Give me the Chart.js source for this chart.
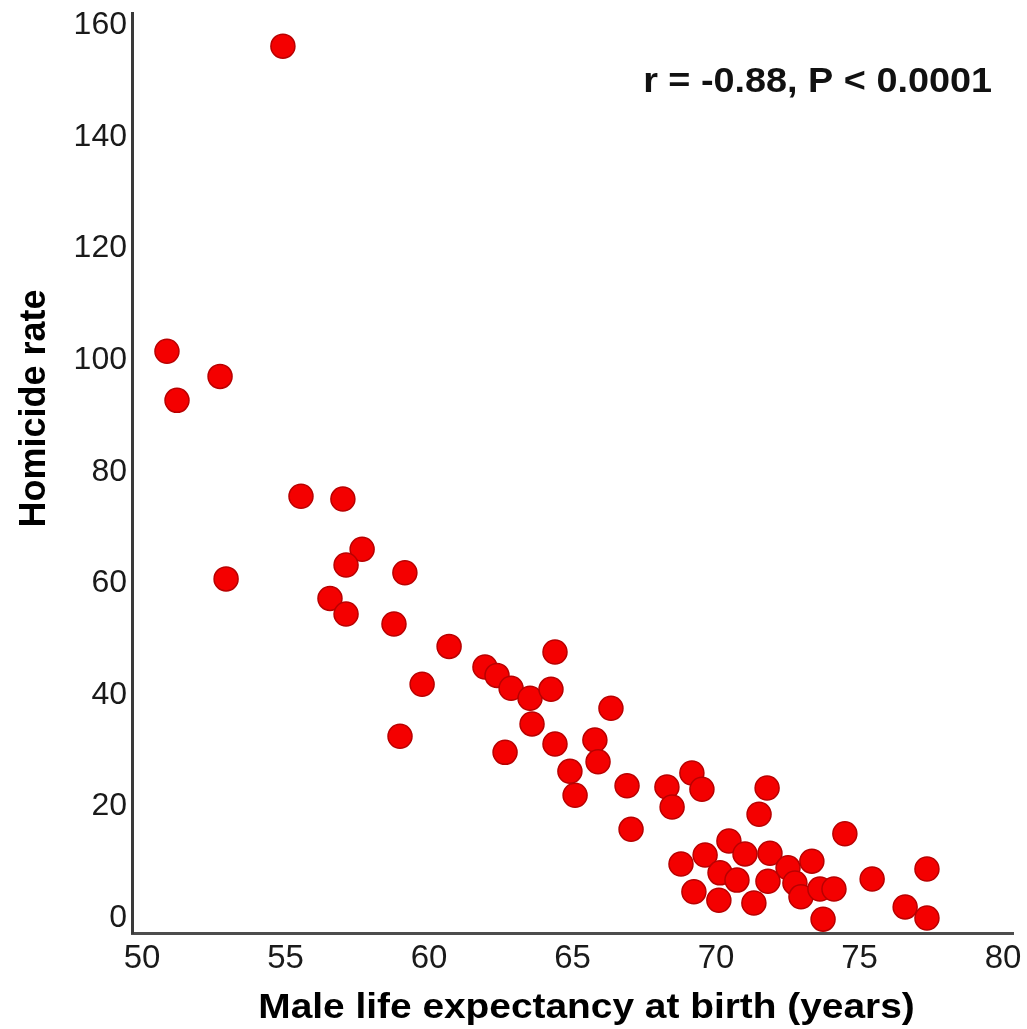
<!DOCTYPE html>
<html>
<head>
<meta charset="utf-8">
<script src="https://cdn.jsdelivr.net/npm/chart.js@4"></script>
<style>
  html, body { margin: 0; padding: 0; background: #ffffff; }
  #wrap { width: 1027px; height: 1029px; }
</style>
</head>
<body>
<div id="wrap"><canvas id="c" width="1027" height="1029"></canvas></div>
<script>
// Male life expectancy at birth (years) vs. homicide rate, one point per country
const lifeExpectancy = [
  54.91, 50.87, 51.22, 52.72, 52.93, 55.54, 57.00, 57.67, 57.11, 56.55,
  57.11, 59.16, 58.78, 60.70, 59.76, 58.99, 61.95, 62.37, 62.86, 63.52,
  63.59, 62.65, 64.39, 64.25, 64.39, 64.91, 65.09, 65.78, 65.89, 66.34,
  66.90, 67.04, 68.29, 68.47, 69.16, 69.51, 68.78, 69.62, 69.23, 70.10,
  70.45, 70.14, 71.01, 70.73, 71.32, 71.50, 71.78, 71.88, 71.81, 72.51,
  72.75, 72.96, 73.34, 73.62, 74.11, 73.73, 74.49, 75.44, 76.59, 77.35,
  77.35
];
const homicideRate = [
  156.3, 101.6, 92.8, 97.1, 60.8, 75.6, 75.1, 66.1, 63.3, 57.3,
  54.5, 61.9, 52.7, 48.7, 41.9, 32.6, 45.0, 43.5, 41.2, 39.4,
  34.8, 29.7, 47.7, 41.0, 31.2, 26.3, 22.0, 31.9, 28.0, 37.6,
  23.7, 15.9, 23.5, 19.9, 26.0, 23.1, 9.7, 11.3, 4.7, 3.2,
  13.8, 8.1, 11.5, 6.8, 2.7, 18.6, 23.3, 11.6, 6.6, 9.0,
  6.3, 3.8, 10.2, 5.2, 5.2, -0.2, 15.1, 7.0, 2.0, 8.8,
  0.0
];
const xTicks = [50, 55, 60, 65, 70, 75, 80];
const yTicks = [0, 20, 40, 60, 80, 100, 120, 140, 160];
const xTitle = 'Male life expectancy at birth (years)';
const yTitle = 'Homicide rate';
const statsNote = 'r = -0.88, P < 0.0001';

const points = lifeExpectancy.map((x, i) => ({ x: x, y: homicideRate[i] }));
const FONT = '"Liberation Sans", Arial, Helvetica, sans-serif';

// Axis titles and the correlation note, drawn in a slightly wide bold face
const labelsPlugin = {
  id: 'figureLabels',
  afterDraw(chart) {
    const { ctx, chartArea } = chart;
    ctx.save();
    ctx.fillStyle = '#000000';
    ctx.textBaseline = 'alphabetic';
    ctx.textAlign = 'center';

    // x-axis title, centred under the plot
    ctx.save();
    ctx.font = 'bold 35px ' + FONT;
    ctx.translate((chartArea.left + chartArea.right) / 2 + 14, chartArea.bottom + 85);
    ctx.scale(1.11, 1);
    ctx.fillText(xTitle, 0, 0);
    ctx.restore();

    // y-axis title, rotated, sitting a little above the vertical middle
    ctx.save();
    ctx.font = 'bold 36px ' + FONT;
    ctx.translate(chartArea.left - 87, chartArea.top + 395);
    ctx.rotate(-Math.PI / 2);
    ctx.fillText(yTitle, 0, 0);
    ctx.restore();

    // correlation note, upper right
    ctx.save();
    ctx.font = 'bold 35px ' + FONT;
    ctx.fillStyle = '#111111';
    ctx.textAlign = 'right';
    ctx.translate(chartArea.right - 21, chartArea.top + 78);
    ctx.scale(1.08, 1);
    ctx.fillText(statsNote, 0, 0);
    ctx.restore();

    ctx.restore();
  }
};

new Chart(document.getElementById('c'), {
  type: 'scatter',
  data: {
    datasets: [{
      data: points,
      backgroundColor: 'rgb(244,0,0)',
      borderColor: 'rgb(185,0,0)',
      borderWidth: 1.5,
      pointRadius: 12,
      pointHoverRadius: 12
    }]
  },
  options: {
    responsive: false,
    animation: false,
    devicePixelRatio: 1,
    layout: { padding: { top: 12, right: 14, left: 0, bottom: 0 } },
    plugins: {
      legend: { display: false },
      tooltip: { enabled: false }
    },
    scales: {
      x: {
        type: 'linear',
        min: 49.652,
        max: 80.348,
        grid: { display: false, drawTicks: false },
        border: { display: true, color: '#4d4d4d', width: 3 },
        ticks: {
          color: '#1a1a1a',
          font: { family: FONT, size: 33 },
          padding: 6,
          maxRotation: 0
        },
        afterBuildTicks(scale) { scale.ticks = xTicks.map(v => ({ value: v })); },
        afterFit(scale) {
          scale.height = 96;
          scale.paddingLeft = 0;
          scale.paddingRight = 0;
        },
        title: { display: false }
      },
      y: {
        type: 'linear',
        min: -2.68,
        max: 162.15,
        grid: { display: false, drawTicks: false },
        border: { display: true, color: '#3a3a3a', width: 3 },
        ticks: {
          color: '#1a1a1a',
          font: { family: FONT, size: 32 },
          padding: 5
        },
        afterBuildTicks(scale) { scale.ticks = yTicks.map(v => ({ value: v })); },
        afterFit(scale) {
          scale.width = 132;
          scale.paddingTop = 0;
          scale.paddingBottom = 0;
        },
        title: { display: false }
      }
    }
  },
  plugins: [labelsPlugin]
});
</script>
</body>
</html>
